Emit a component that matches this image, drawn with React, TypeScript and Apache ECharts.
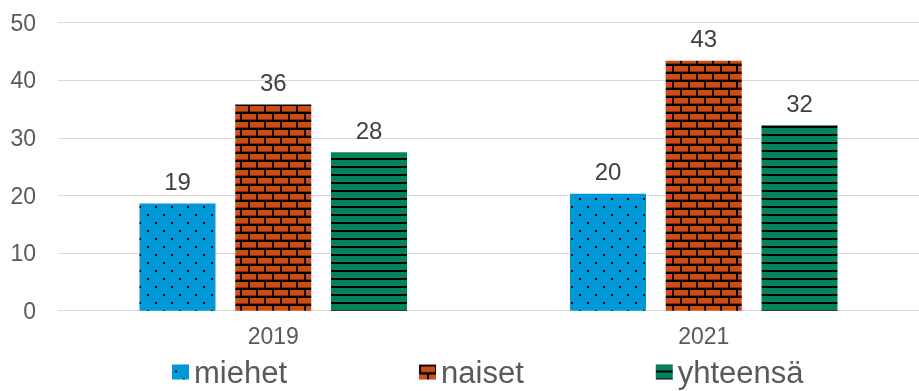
import React, { useEffect, useRef } from "react";
import * as echarts from "echarts";

const categories = ["2019", "2021"];
const seriesNames = ["miehet", "naiset", "yhteensä"];
const miehet = [18.6, 20.3];
const naiset = [35.8, 43.4];
const yhteensa = [27.5, 32.2];
const yTicks = [0, 10, 20, 30, 40, 50];

function makeCanvas(w: number, h: number, draw: (c: CanvasRenderingContext2D) => void) {
  const cv = document.createElement("canvas");
  cv.width = w;
  cv.height = h;
  const ctx = cv.getContext("2d")!;
  draw(ctx);
  return cv;
}

function dotPattern() {
  const cv = makeCanvas(16, 16, (c) => {
    c.fillStyle = "#0099D8";
    c.fillRect(0, 0, 16, 16);
    c.fillStyle = "#000000";
    c.fillRect(3, 6, 2, 2);
    c.fillRect(11, 14, 2, 2);
  });
  return { image: cv, repeat: "repeat", imageWidth: 16, imageHeight: 16 };
}

function brickPattern() {
  const cv = makeCanvas(16, 16, (c) => {
    c.fillStyle = "#D04C15";
    c.fillRect(0, 0, 16, 16);
    c.fillStyle = "#000000";
    c.fillRect(0, 0, 16, 2);
    c.fillRect(0, 8, 16, 2);
    c.fillRect(0, 0, 2, 8);
    c.fillRect(8, 8, 2, 8);
    c.fillStyle = "#8a2e08";
    c.fillRect(2, 7, 14, 1);
    c.fillRect(0, 15, 8, 1);
    c.fillRect(10, 15, 6, 1);
  });
  return { image: cv, repeat: "repeat", imageWidth: 16, imageHeight: 16 };
}

function stripePattern() {
  const cv = makeCanvas(8, 8, (c) => {
    c.fillStyle = "#03835D";
    c.fillRect(0, 0, 8, 8);
    c.fillStyle = "#000000";
    c.fillRect(0, 6, 8, 2);
  });
  return { image: cv, repeat: "repeat", imageWidth: 8, imageHeight: 8 };
}

const FONT = "'Liberation Sans', Arial, sans-serif";

export default function App() {
  const ref = useRef<HTMLDivElement>(null);
  useEffect(() => {
    if (!ref.current) return;
    const chart = echarts.init(ref.current, null, { renderer: "svg" });
    const patterns = [dotPattern(), brickPattern(), stripePattern()];
    const values = [miehet, naiset, yhteensa];
    chart.setOption({
      animation: false,
      textStyle: { fontFamily: FONT },
      grid: { left: 58, top: 22.7, width: 867, height: 288, containLabel: false },
      legend: {
        data: seriesNames,
        icon: "rect",
        left: 172,
        top: 356,
        padding: 0,
        itemWidth: 17,
        itemHeight: 15,
        itemGap: 132,
        textStyle: { fontSize: 31, color: "#595959", fontFamily: FONT, lineHeight: 32 },
      },
      xAxis: {
        type: "category",
        data: categories,
        axisTick: { show: false },
        axisLine: { lineStyle: { color: "#D9D9D9", width: 1 } },
        axisLabel: { fontSize: 23, color: "#595959", margin: 14, fontFamily: FONT },
      },
      yAxis: {
        type: "value",
        min: yTicks[0],
        max: yTicks[yTicks.length - 1],
        interval: 10,
        axisLine: { show: false },
        axisTick: { show: false },
        splitLine: { lineStyle: { color: "#D9D9D9", width: 1 } },
        axisLabel: { fontSize: 23, color: "#595959", margin: 22, fontFamily: FONT },
      },
      series: seriesNames.map((name, i) => ({
        name,
        type: "bar",
        data: values[i],
        barWidth: 76,
        barGap: "26%",
        itemStyle: { color: patterns[i] },
        label: {
          show: true,
          position: "top",
          distance: 10,
          fontSize: 24,
          color: "#404040",
          fontFamily: FONT,
          formatter: (p: any) => String(Math.round(p.value)),
        },
      })),
    });
    return () => chart.dispose();
  }, []);
  return <div ref={ref} style={{ position: "fixed", left: 0, top: 0, width: 919, height: 391 }} />;
}
